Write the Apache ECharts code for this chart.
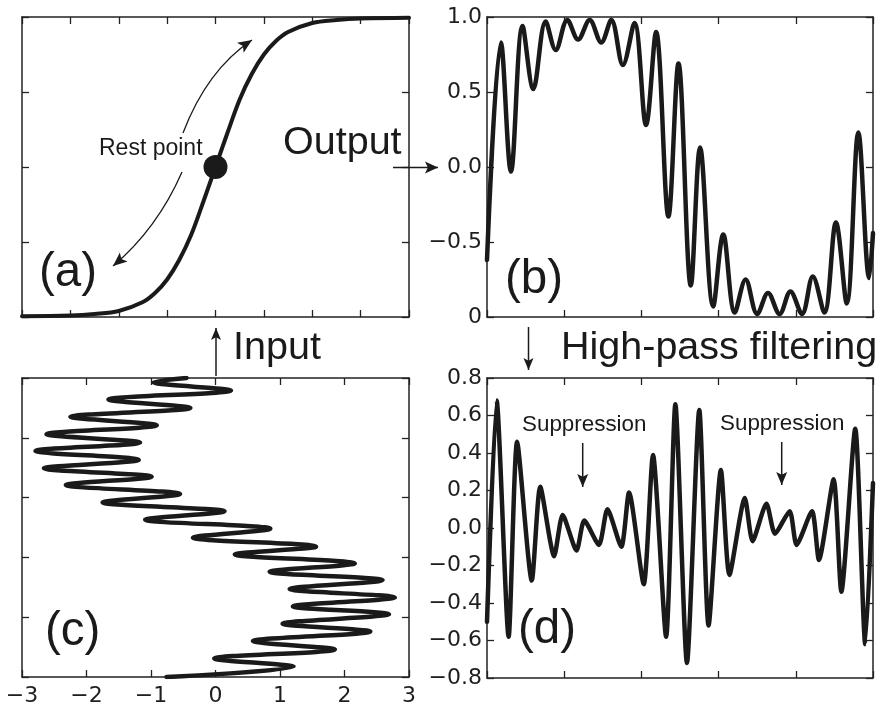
<!DOCTYPE html>
<html>
<head>
<meta charset="utf-8">
<script src="https://cdn.jsdelivr.net/npm/echarts@6/dist/echarts.min.js"></script>
<style>
  html, body { margin: 0; padding: 0; background: #fff; }
  #chart { width: 882px; height: 707px; }
</style>
</head>
<body>
<div id="chart"></div>
<script>
// (a) saturating transfer curve: input -> output
const transferIn  = [-4, -3, -2.5, -2, -1.5, -1.25, -1, -0.75, -0.5, -0.25, 0, 0.25, 0.5, 0.75, 1, 1.25, 1.5, 2, 2.5, 3, 4];
const transferOut = [-0.995, -0.99, -0.98, -0.96, -0.9, -0.84, -0.75, -0.62, -0.45, -0.23, 0, 0.23, 0.45, 0.62, 0.75, 0.84, 0.9, 0.96, 0.98, 0.99, 0.995];
const restPoint = [[0, 0]];

// (c) input signal, time running upward (turning points of the oscillation)
const inputTime  = [0.00, 0.17, 0.31, 0.46, 0.60, 0.76, 0.89, 1.05, 1.18, 1.33, 1.47, 1.62, 1.76, 1.90, 2.05, 2.18, 2.33, 2.48, 2.63, 2.77, 2.92, 3.06, 3.21, 3.35, 3.49, 3.63, 3.78, 3.92, 4.06, 4.21, 4.35, 4.50, 4.64, 4.79, 4.93, 5.00];
const inputValue = [-0.76, 1.21, -0.02, 1.85, 0.58, 2.40, 1.04, 2.69, 1.20, 2.78, 1.15, 2.59, 0.84, 2.16, 0.30, 1.56, -0.35, 0.85, -1.09, 0.14, -1.75, -0.55, -2.32, -0.99, -2.66, -1.19, -2.79, -1.17, -2.62, -0.91, -2.25, -0.39, -1.66, 0.24, -0.96, -0.45];

// (b) output of the transfer curve
const outputTime  = [0.00, 0.18, 0.31, 0.46, 0.60, 0.76, 0.89, 1.04, 1.18, 1.33, 1.48, 1.61, 1.76, 1.91, 2.06, 2.19, 2.35, 2.48, 2.64, 2.76, 2.93, 3.06, 3.21, 3.35, 3.50, 3.64, 3.79, 3.93, 4.08, 4.22, 4.37, 4.52, 4.66, 4.81, 4.95, 5.00];
const outputValue = [-0.62, 0.83, -0.03, 0.94, 0.52, 0.97, 0.78, 0.98, 0.85, 0.98, 0.83, 0.98, 0.68, 0.96, 0.28, 0.90, -0.33, 0.69, -0.79, 0.13, -0.93, -0.45, -0.97, -0.75, -0.98, -0.84, -0.98, -0.83, -0.98, -0.73, -0.97, -0.37, -0.91, 0.23, -0.74, -0.44];

// (d) high-pass filtered output
const filteredTime  = [0.00, 0.125, 0.28, 0.39, 0.58, 0.69, 0.87, 0.98, 1.16, 1.26, 1.45, 1.56, 1.74, 1.84, 2.03, 2.15, 2.32, 2.44, 2.59, 2.75, 2.87, 3.03, 3.14, 3.34, 3.44, 3.62, 3.73, 3.92, 4.01, 4.21, 4.30, 4.49, 4.59, 4.77, 4.90, 5.00];
const filteredValue = [-0.50, 0.68, -0.58, 0.46, -0.28, 0.22, -0.15, 0.07, -0.12, 0.04, -0.09, 0.10, -0.10, 0.19, -0.30, 0.39, -0.58, 0.66, -0.72, 0.63, -0.52, 0.31, -0.25, 0.16, -0.07, 0.13, -0.03, 0.09, -0.09, 0.09, -0.17, 0.26, -0.34, 0.53, -0.62, 0.24];

// Tick labels (listed from the axis minimum upward)
const inputTickLabels    = ['\u22123', '\u22122', '\u22121', '0', '1', '2', '3'];
const outputTickLabels   = ['0', '\u22120.5', '0.0', '0.5', '1.0'];
const filteredTickLabels = ['\u22120.8', '\u22120.6', '\u22120.4', '\u22120.2', '0.0', '0.2', '0.4', '0.6', '0.8'];

const ink = '#1a1a1a';
const frameColor = '#222';
const textFont = '"Liberation Sans", Arial, Helvetica, sans-serif';
const tickFont = '"DejaVu Sans", sans-serif';

const zip = (a, b) => a.map((v, i) => [v, b[i]]);

const grids = [
  { left: 22,  top: 17,  width: 387, height: 300 },  // (a)
  { left: 487, top: 17,  width: 386, height: 300 },  // (b)
  { left: 22,  top: 378, width: 387, height: 300 },  // (c)
  { left: 487, top: 378, width: 386, height: 300 }   // (d)
];

function frameAxis(gridIndex, position, range, label) {
  return {
    type: 'value', gridIndex, position,
    min: range[0], max: range[1], interval: range[2],
    axisLine: { show: true, onZero: false, lineStyle: { color: frameColor, width: 1.5 } },
    axisTick: { show: true, inside: true, length: 7, lineStyle: { color: frameColor, width: 1.3 } },
    splitLine: { show: false },
    axisLabel: label ? Object.assign({
      show: true, color: '#1e1e1e', fontFamily: tickFont, fontSize: 22,
      showMinLabel: true, showMaxLabel: true
    }, label) : { show: false }
  };
}

const aX = [-4, 4, 1], aY = [-1, 1, 0.5];
const tX = [0, 5, 1];
const cX = [-3, 3, 1], cY = [0, 5, 1];
const dY = [-0.8, 0.8, 0.2];

const xAxis = [
  frameAxis(0, 'bottom', aX), frameAxis(0, 'top', aX),
  frameAxis(1, 'bottom', tX), frameAxis(1, 'top', tX),
  frameAxis(2, 'bottom', cX, { margin: 8, formatter: (v, i) => inputTickLabels[i] }), frameAxis(2, 'top', cX),
  frameAxis(3, 'bottom', tX), frameAxis(3, 'top', tX)
];
const yAxis = [
  frameAxis(0, 'left', aY), frameAxis(0, 'right', aY),
  frameAxis(1, 'left', aY, { margin: 5, formatter: (v, i) => outputTickLabels[i] }), frameAxis(1, 'right', aY),
  frameAxis(2, 'left', cY), frameAxis(2, 'right', cY),
  frameAxis(3, 'left', dY, { margin: 5, formatter: (v, i) => filteredTickLabels[i] }), frameAxis(3, 'right', dY)
];

function curve(axisIdx, data, width, smooth) {
  return {
    type: 'line', xAxisIndex: axisIdx, yAxisIndex: axisIdx, data,
    smooth: smooth, symbol: 'none', clip: true, animation: false,
    lineStyle: { color: ink, width: width, join: 'round', cap: 'round' }
  };
}

const series = [
  curve(0, zip(transferIn, transferOut), 4, 0.35),
  {
    type: 'scatter', xAxisIndex: 0, yAxisIndex: 0, data: restPoint,
    symbol: 'circle', symbolSize: 24, itemStyle: { color: ink, opacity: 1 }, z: 5, animation: false
  },
  curve(2, zip(outputTime, outputValue), 4.5, 0.35),
  curve(4, zip(inputValue, inputTime), 4.5, 0.35),
  curve(6, zip(filteredTime, filteredValue), 4.5, 0.22)
];

// ----- annotation helpers -----
function text(str, x, y, size) {
  return {
    type: 'text', silent: true, z: 10,
    style: { text: str, x, y, fill: ink, fontSize: size, fontFamily: textFont, align: 'left', verticalAlign: 'middle' }
  };
}
function head(tipX, tipY, fromX, fromY, len, hw) {
  const dx = tipX - fromX, dy = tipY - fromY, d = Math.hypot(dx, dy);
  const ux = dx / d, uy = dy / d, nx = -uy, ny = ux;
  const bx = tipX - ux * len, by = tipY - uy * len;
  const mx = tipX - ux * len * 0.78, my = tipY - uy * len * 0.78;
  return {
    type: 'polygon', silent: true, z: 10,
    shape: { points: [[tipX, tipY], [bx + nx * hw, by + ny * hw], [mx, my], [bx - nx * hw, by - ny * hw]] },
    style: { fill: ink }
  };
}
function arrow(x1, y1, x2, y2, len, hw, lw) {
  return [
    { type: 'line', silent: true, z: 10, shape: { x1, y1, x2, y2 }, style: { stroke: ink, lineWidth: lw } },
    head(x2, y2, x1, y1, len, hw)
  ];
}
function curvedArrow(x1, y1, cx, cy, x2, y2, len, hw, lw) {
  return [
    { type: 'bezierCurve', silent: true, z: 10, shape: { x1, y1, cpx1: cx, cpy1: cy, x2, y2 },
      style: { stroke: ink, lineWidth: lw, fill: null } },
    head(x2, y2, cx, cy, len, hw)
  ];
}

const graphic = [
  text('Rest point', 99, 149, 23),
  text('Output', 283, 143, 39.5),
  text('Input', 233, 348, 39.5),
  text('High-pass filtering', 561, 348, 39.5),
  text('Suppression', 522, 425, 22.4),
  text('Suppression', 720, 424, 22.4),
  text('(a)', 39, 273, 47.5),
  text('(b)', 505, 280, 47.5),
  text('(c)', 45, 632, 47.5),
  text('(d)', 518, 630, 47.5),
  ...curvedArrow(183, 133, 207, 70, 252, 40, 14, 6, 1.3),
  ...curvedArrow(182, 172, 157, 229, 113, 266, 14, 6, 1.3),
  ...arrow(393, 167.5, 438, 167.5, 13, 6, 1.5),
  ...arrow(216, 376, 216, 328, 12, 5, 1.5),
  ...arrow(528.5, 327, 528.5, 370, 12, 5, 1.5),
  ...arrow(582.7, 443, 582.7, 487, 13, 5.5, 1.5),
  ...arrow(781.7, 442, 781.7, 485, 13, 5.5, 1.5)
];

const chart = echarts.init(document.getElementById('chart'), null, { renderer: 'canvas' });
chart.setOption({
  backgroundColor: '#fff',
  animation: false,
  grid: grids,
  xAxis, yAxis, series, graphic
});
</script>
</body>
</html>
